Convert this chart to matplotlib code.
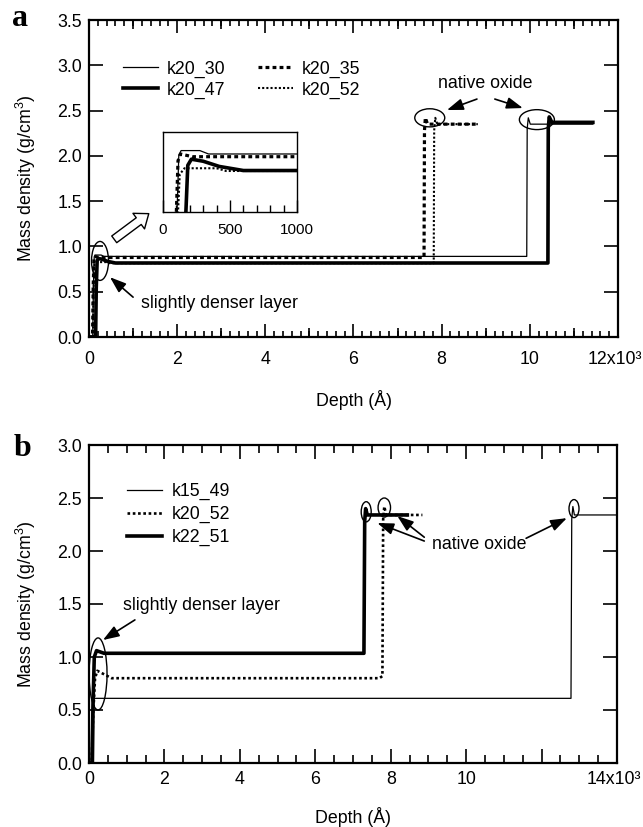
import matplotlib
matplotlib.use("Agg")
import matplotlib.pyplot as plt
from matplotlib.ticker import MultipleLocator, FixedLocator, FixedFormatter
from matplotlib.patches import Ellipse, FancyArrowPatch

plt.rcParams['font.family'] = ['Liberation Sans', 'DejaVu Sans']
plt.rcParams['mathtext.fontset'] = 'custom'
plt.rcParams['mathtext.rm'] = 'Liberation Sans'
plt.rcParams['mathtext.it'] = 'Liberation Sans'
plt.rcParams['mathtext.bf'] = 'Liberation Sans:bold'

FS = 12.8
FS_INSET = 11

# ---------------- panel a : density profiles (depth in Angstrom) ----------------
a_k20_30_depth = [0, 85, 100, 118, 135, 275, 340, 9930, 9940, 9965, 10010, 11430]
a_k20_30_rho = [0.0, 0.0, 0.55, 0.885, 0.905, 0.905, 0.89, 0.89, 2.30, 2.42, 2.35, 2.35]

a_k20_47_depth = [0, 150, 165, 185, 212, 300, 420, 600, 10410, 10418, 10440, 10500, 11430]
a_k20_47_rho = [0.0, 0.0, 0.55, 0.84, 0.867, 0.858, 0.835, 0.817, 0.817, 2.30, 2.43, 2.37, 2.37]

a_k20_35_depth = [0, 80, 95, 112, 130, 220, 7600, 7610, 7630, 7680, 8820]
a_k20_35_rho = [0.0, 0.0, 0.55, 0.86, 0.89, 0.878, 0.878, 2.28, 2.42, 2.35, 2.35]

a_k20_52_depth = [0, 90, 102, 125, 160, 400, 470, 7820, 7830, 7855, 7900, 8820]
a_k20_52_rho = [0.0, 0.0, 0.5, 0.80, 0.827, 0.827, 0.815, 0.815, 2.28, 2.42, 2.35, 2.35]

a_xticks = [0, 2000, 4000, 6000, 8000, 10000, 12000]
a_xticklabels = ['0', '2', '4', '6', '8', '10', '']
a_last_label = '12x10³'
a_yticks = [0.0, 0.5, 1.0, 1.5, 2.0, 2.5, 3.0, 3.5]
inset_xticks = [0, 500, 1000]

# ---------------- panel b ----------------
b_k15_49_depth = [0, 50, 70, 95, 12780, 12800, 12830, 12870, 14000]
b_k15_49_rho = [0.0, 0.0, 0.45, 0.61, 0.61, 2.30, 2.42, 2.34, 2.34]

b_k20_52_depth = [0, 70, 110, 160, 220, 600, 7700, 7780, 7800, 7830, 7880, 8840]
b_k20_52_rho = [0.0, 0.0, 0.45, 0.80, 0.87, 0.80, 0.80, 0.82, 2.30, 2.42, 2.34, 2.34]

b_k22_51_depth = [0, 90, 110, 140, 200, 400, 7290, 7310, 7335, 7380, 8440]
b_k22_51_rho = [0.0, 0.0, 0.6, 1.00, 1.06, 1.035, 1.035, 2.28, 2.40, 2.34, 2.34]

b_xticks = [0, 2000, 4000, 6000, 8000, 10000, 12000, 14000]
b_xticklabels = ['0', '2', '4', '6', '8', '10', '', '']
b_last_label = '14x10³'
b_yticks = [0.0, 0.5, 1.0, 1.5, 2.0, 2.5, 3.0]

thin = dict(color='black', lw=0.9, ls='-')
thick = dict(color='black', lw=2.6, ls='-')
dash35 = dict(color='black', lw=2.3, ls=(0, (1.2, 1.0)))
dot52 = dict(color='black', lw=1.5, ls=(0, (1, 1)))
dot52b = dict(color='black', lw=1.9, ls=(0, (1, 1)))

W, H = 643, 827
fig = plt.figure(figsize=(W / 100, H / 100), dpi=100)


def px_axes(x0, y0, x1, y1):
    return fig.add_axes([x0 / W, 1 - y1 / H, (x1 - x0) / W, (y1 - y0) / H])


def style_axes(ax):
    for s in ax.spines.values():
        s.set_linewidth(1.6)
    ax.tick_params(which='both', direction='in', top=True, right=True,
                   width=1.2, labelsize=FS, colors='black')


def end_label(ax, xval, text, pad_pt):
    # last x tick label, set flush so it stays inside the figure
    ax.annotate(text, xy=(xval, 0), xycoords=('data', 'axes fraction'),
                xytext=(-22, -pad_pt), textcoords='offset points',
                ha='left', va='top', fontsize=FS)


arrow_kw = dict(arrowstyle='-|>,head_length=0.7,head_width=0.25',
                color='black', lw=1.2, mutation_scale=14, shrinkA=0, shrinkB=0)

# ================= panel a =================
axa = px_axes(89, 20, 618, 337)
style_axes(axa)
axa.plot(a_k20_30_depth, a_k20_30_rho, label='k20_30', **thin)
axa.plot(a_k20_47_depth, a_k20_47_rho, label='k20_47', **thick)
axa.plot(a_k20_35_depth, a_k20_35_rho, label='k20_35', **dash35)
axa.plot(a_k20_52_depth, a_k20_52_rho, label='k20_52', **dot52)
axa.set_xlim(0, 12000)
axa.set_ylim(0, 3.5)
axa.xaxis.set_major_locator(FixedLocator(a_xticks))
axa.xaxis.set_major_formatter(FixedFormatter(a_xticklabels))
axa.xaxis.set_minor_locator(MultipleLocator(200))
axa.yaxis.set_major_locator(FixedLocator(a_yticks))
axa.set_yticklabels([f'{v:.1f}' for v in a_yticks])
axa.tick_params(axis='x', which='major', length=9.5, pad=10)
axa.tick_params(axis='x', which='minor', length=4.3)
axa.tick_params(axis='y', which='major', length=10, pad=5)
end_label(axa, 12000, a_last_label, 10)

# intermediate ticks at odd thousands
for loc in ('bottom', 'top'):
    sec = axa.secondary_xaxis(loc)
    sec.set_xticks([1000, 3000, 5000, 7000, 9000, 11000])
    sec.tick_params(direction='in', length=6.5, width=1.2, labelbottom=False,
                    labeltop=False)
    sec.spines[loc].set_visible(False)

axa.set_xlabel('Depth (Å)', fontsize=FS)
axa.xaxis.set_label_coords(0.5, -0.168)
axa.set_ylabel('Mass density (g/cm$^3$)', fontsize=FS)
axa.yaxis.set_label_coords(-0.097, 0.5)

axa.legend(handles=axa.lines[:4], ncol=2, loc='upper left',
           bbox_to_anchor=(0.064, 0.872), frameon=False, fontsize=FS,
           handlelength=1.95, handletextpad=0.5, columnspacing=1.88,
           labelspacing=0.22, borderpad=0, borderaxespad=0)

for (cx, cy, w, h) in [(250, 0.84, 385, 0.43), (7730, 2.42, 680, 0.20),
                       (10160, 2.40, 794, 0.22)]:
    axa.add_patch(Ellipse((cx, cy), w, h, fill=False, lw=1.0, color='black'))

axa.text(9000, 2.80, 'native oxide', fontsize=FS, ha='center', va='center')
axa.annotate('', xy=(8120, 2.506), xytext=(8800, 2.627), arrowprops=arrow_kw)
axa.annotate('', xy=(9841, 2.528), xytext=(9206, 2.627), arrowprops=arrow_kw)
axa.text(2950, 0.375, 'slightly denser layer', fontsize=FS, ha='center', va='center')
axa.annotate('', xy=(476, 0.66), xytext=(1000, 0.44), arrowprops=arrow_kw)

# inset: first 1000 Angstrom
axi = px_axes(163, 132, 297, 212)
axi.plot(a_k20_30_depth, a_k20_30_rho, **thin)
axi.plot(a_k20_47_depth, a_k20_47_rho, **thick)
axi.plot(a_k20_35_depth, a_k20_35_rho, **dash35)
axi.plot(a_k20_52_depth, a_k20_52_rho, **dot52)
axi.set_xlim(0, 1000)
axi.set_ylim(0.634, 0.987)
for s in axi.spines.values():
    s.set_linewidth(1.0)
axi.set_yticks([])
axi.xaxis.set_major_locator(FixedLocator(inset_xticks))
axi.xaxis.set_minor_locator(MultipleLocator(100))
axi.tick_params(axis='x', which='both', direction='in', labelsize=FS_INSET,
                width=1.0, pad=8)
axi.tick_params(axis='x', which='major', length=9)
axi.tick_params(axis='x', which='minor', length=5)

# hollow pointer towards the inset
hollow = FancyArrowPatch((112 / W, 1 - 241 / H), (151 / W, 1 - 212 / H),
                         transform=fig.transFigure,
                         arrowstyle='simple,head_width=14,head_length=9,tail_width=6',
                         mutation_scale=1, facecolor='white', edgecolor='black', lw=1.0)
fig.patches.append(hollow)

fig.text(20 / W, 1 - 19 / H, 'a', fontsize=23, fontweight='bold',
         family='Liberation Serif', ha='center', va='center')

# ================= panel b =================
axb = px_axes(89, 445, 617, 763)
style_axes(axb)
axb.plot(b_k15_49_depth, b_k15_49_rho, label='k15_49', **thin)
axb.plot(b_k20_52_depth, b_k20_52_rho, label='k20_52', **dot52b)
axb.plot(b_k22_51_depth, b_k22_51_rho, label='k22_51', **thick)
axb.set_xlim(0, 14000)
axb.set_ylim(0, 3.0)
axb.xaxis.set_major_locator(FixedLocator(b_xticks))
axb.xaxis.set_major_formatter(FixedFormatter(b_xticklabels))
axb.xaxis.set_minor_locator(MultipleLocator(500))
axb.yaxis.set_major_locator(FixedLocator(b_yticks))
axb.set_yticklabels([f'{v:.1f}' for v in b_yticks])
axb.tick_params(axis='x', which='major', length=10, pad=5.5)
axb.tick_params(axis='x', which='minor', length=5.5)
axb.tick_params(axis='y', which='major', length=10, pad=5)
end_label(axb, 14000, b_last_label, 5.5)
axb.set_xlabel('Depth (Å)', fontsize=FS)
axb.xaxis.set_label_coords(0.5, -0.138)
axb.set_ylabel('Mass density (g/cm$^3$)', fontsize=FS)
axb.yaxis.set_label_coords(-0.097, 0.5)

axb.legend(loc='upper left', bbox_to_anchor=(0.072, 0.88), frameon=False,
           fontsize=FS, handlelength=1.95, handletextpad=0.55, labelspacing=0.33,
           borderpad=0, borderaxespad=0)

for (cx, cy, w, h) in [(240, 0.84, 476, 0.68), (7350, 2.37, 265, 0.19),
                       (7830, 2.41, 330, 0.18), (12860, 2.40, 265, 0.17)]:
    axb.add_patch(Ellipse((cx, cy), w, h, fill=False, lw=1.0, color='black'))

axb.text(2990, 1.49, 'slightly denser layer', fontsize=FS, ha='center', va='center')
axb.annotate('', xy=(370, 1.16), xytext=(1217, 1.35), arrowprops=arrow_kw)
axb.text(10340, 2.057, 'native oxide', fontsize=FS, ha='center', va='center')
axb.annotate('', xy=(7645, 2.264), xytext=(8890, 2.094), arrowprops=arrow_kw)
axb.annotate('', xy=(8175, 2.33), xytext=(8890, 2.13), arrowprops=arrow_kw)
axb.annotate('', xy=(12670, 2.31), xytext=(11590, 2.12), arrowprops=arrow_kw)

fig.text(22 / W, 1 - 449 / H, 'b', fontsize=23, fontweight='bold',
         family='Liberation Serif', ha='center', va='center')

fig.savefig('out.png', dpi=100)
